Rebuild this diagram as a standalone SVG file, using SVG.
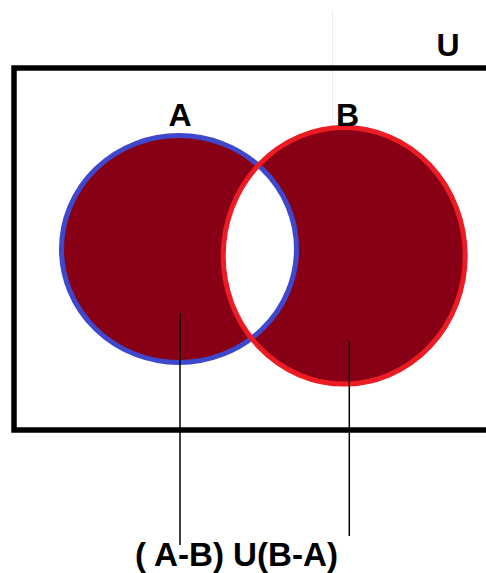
<svg xmlns="http://www.w3.org/2000/svg" width="486" height="573" viewBox="0 0 486 573">
<style>
.lbl{font-family:"Liberation Sans",Arial,sans-serif;font-weight:bold;fill:#000;}
.fill{fill:#880015;}
.lead{stroke:#000;stroke-width:1.5;fill:none;}
</style>
<defs>
<clipPath id="clipA"><ellipse cx="179" cy="249" rx="117.5" ry="113.5"/></clipPath>
</defs>
<rect x="0" y="0" width="486" height="573" fill="#fff"/>
<line x1="332.5" y1="10" x2="332.5" y2="127" stroke="#f4ece8" stroke-width="1"/>
<g id="universe">
<rect x="14" y="68" width="500" height="362" fill="none" stroke="#000" stroke-width="5.5"/>
<text class="lbl" x="448" y="56" font-size="32" text-anchor="middle">U</text>
</g>
<g id="setA">
<ellipse class="fill" cx="179" cy="249" rx="117.5" ry="113.5"/>
</g>
<g id="setB">
<ellipse class="fill" cx="344.2" cy="255.8" rx="121" ry="128.3"/>
</g>
<g id="intersection">
<ellipse cx="344.2" cy="255.8" rx="121" ry="128.3" fill="#fff" clip-path="url(#clipA)"/>
</g>
<g id="outlines">
<ellipse cx="179" cy="249" rx="117.5" ry="113.5" fill="none" stroke="#3f48cc" stroke-width="5"/>
<ellipse cx="344.2" cy="255.8" rx="121" ry="128.3" fill="none" stroke="#ed1c24" stroke-width="5"/>
<text class="lbl" x="180" y="126" font-size="32" text-anchor="middle">A</text>
<text class="lbl" x="347.5" y="126" font-size="32" text-anchor="middle">B</text>
</g>
<g id="connectors">
<line class="lead" x1="180" y1="313" x2="180" y2="545"/>
<line class="lead" x1="349.3" y1="341" x2="349.3" y2="536"/>
</g>
<g id="result-label">
<text class="lbl" x="135" y="566" font-size="33" textLength="203" lengthAdjust="spacingAndGlyphs">( A-B) U(B-A)</text>
</g>
</svg>
